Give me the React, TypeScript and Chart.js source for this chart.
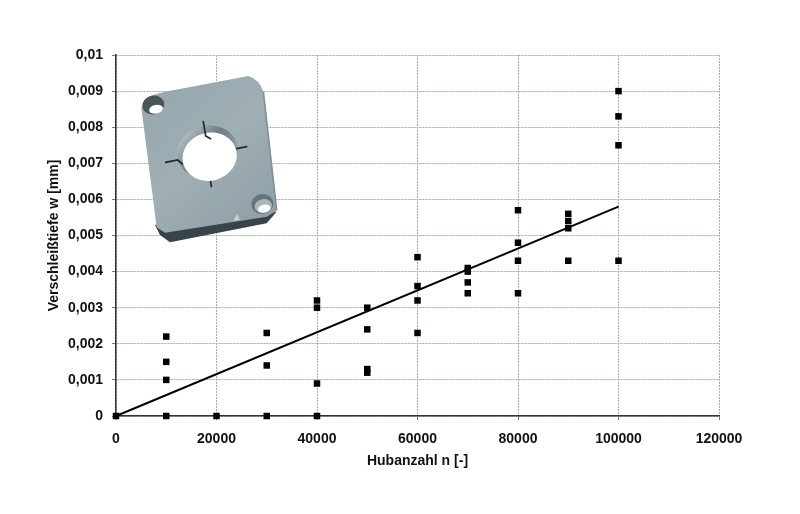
import React, { useEffect, useRef } from "react";
import { Chart, registerables } from "chart.js";

Chart.register(...registerables);

const strokeCounts = [0, 10000, 10000, 10000, 10000, 20000, 30000, 30000, 30000, 40000, 40000, 40000, 40000, 50000, 50000, 50000, 50000, 60000, 60000, 60000, 60000, 70000, 70000, 70000, 70000, 80000, 80000, 80000, 80000, 90000, 90000, 90000, 90000, 100000, 100000, 100000, 100000];
const wearDepths = [0, 0, 0.001, 0.0015, 0.0022, 0, 0, 0.0014, 0.0023, 0, 0.0009, 0.003, 0.0032, 0.0012, 0.0013, 0.0024, 0.003, 0.0023, 0.0032, 0.0036, 0.0044, 0.0034, 0.0037, 0.004, 0.0041, 0.0034, 0.0043, 0.0048, 0.0057, 0.0043, 0.0052, 0.0054, 0.0056, 0.0043, 0.0075, 0.0083, 0.009];
const trendX = [0, 100000];
const trendY = [0, 0.0058];
const xAxisTitle = "Hubanzahl n [-]";
const yAxisTitle = "Verschleißtiefe w [mm]";

const FONT = '"Liberation Sans", Arial, sans-serif';
const GRID = "#9fadb2";

const platePlugin = {
  id: "plate",
  beforeDatasetsDraw(chart: Chart) {
    const c = chart.ctx;
    c.save();
    c.translate(100, 40);
    c.scale(1 / 3, 1 / 3);

    // underside
    c.beginPath();
    c.moveTo(165, 555);
    c.lineTo(180, 585);
    c.lineTo(210, 607);
    c.lineTo(500, 550);
    c.lineTo(530, 515);
    c.closePath();
    c.fillStyle = "#39434a";
    c.fill();

    // face
    const g = c.createLinearGradient(130, 120, 520, 560);
    g.addColorStop(0, "#94a6ad");
    g.addColorStop(0.5, "#9fafb4");
    g.addColorStop(1, "#8d9ea4");
    c.beginPath();
    c.moveTo(124, 203);
    c.quadraticCurveTo(130, 172, 160, 165);
    c.lineTo(195, 155);
    c.lineTo(445, 108);
    c.quadraticCurveTo(478, 118, 490, 155);
    c.lineTo(530, 512);
    c.lineTo(500, 530);
    c.lineTo(195, 578);
    c.lineTo(170, 562);
    c.closePath();
    c.fillStyle = g;
    c.fill();

    // right edge highlight
    c.beginPath();
    c.moveTo(490, 155);
    c.lineTo(530, 512);
    c.strokeStyle = "#7f9097";
    c.lineWidth = 5;
    c.stroke();

    // top-left hole
    c.beginPath();
    c.ellipse(160, 195, 33, 28, -0.2, 0, Math.PI * 2);
    c.fillStyle = "#4a5558";
    c.fill();
    c.beginPath();
    c.ellipse(168, 208, 21, 13, -0.2, 0, Math.PI * 2);
    c.fillStyle = "#ffffff";
    c.fill();

    // bottom-right hole
    c.beginPath();
    c.ellipse(487, 492, 33, 30, -0.2, 0, Math.PI * 2);
    c.fillStyle = "#66767c";
    c.fill();
    c.beginPath();
    c.ellipse(490, 498, 26, 21, -0.2, 0, Math.PI * 2);
    c.fillStyle = "#a9b6ba";
    c.fill();
    c.beginPath();
    c.ellipse(493, 506, 19, 12, -0.2, 0, Math.PI * 2);
    c.fillStyle = "#ffffff";
    c.fill();

    // notch on lower edge
    c.beginPath();
    c.moveTo(400, 542);
    c.lineTo(411, 522);
    c.lineTo(420, 540);
    c.closePath();
    c.fillStyle = "#c8d0d2";
    c.fill();

    // central recess
    c.beginPath();
    c.ellipse(322, 335, 92, 78, -0.25, 0, Math.PI * 2);
    const r = c.createLinearGradient(240, 270, 400, 400);
    r.addColorStop(0, "#c2ccce");
    r.addColorStop(0.45, "#6e7e84");
    r.addColorStop(1, "#a4b2b7");
    c.fillStyle = r;
    c.fill();
    c.beginPath();
    c.ellipse(329, 350, 82, 72, -0.25, 0, Math.PI * 2);
    c.fillStyle = "#ffffff";
    c.fill();

    // scribed marks
    c.strokeStyle = "#1f2a2e";
    c.lineWidth = 5;
    c.lineCap = "round";
    const marks = [
      [[310, 245], [317, 288], [332, 296]],
      [[410, 326], [440, 320]],
      [[197, 367], [233, 360], [247, 372]],
      [[332, 425], [334, 440]],
    ];
    for (const m of marks) {
      c.beginPath();
      m.forEach(([x, y], i) => (i ? c.lineTo(x, y) : c.moveTo(x, y)));
      c.stroke();
    }
    c.restore();
  },
};

export default function App() {
  const ref = useRef<HTMLCanvasElement>(null);
  useEffect(() => {
    const chart = new Chart(ref.current!, {
      type: "scatter",
      data: {
        datasets: [
          {
            data: strokeCounts.map((x, i) => ({ x, y: wearDepths[i] })),
            backgroundColor: "#000",
            borderColor: "#000",
            pointStyle: "rect",
            pointRadius: 4.6,
            pointBorderWidth: 0,
            clip: false,
          },
          {
            data: trendX.map((x, i) => ({ x, y: trendY[i] })),
            showLine: true,
            pointRadius: 0,
            borderColor: "#000",
            borderWidth: 2,
            clip: false,
          },
        ],
      },
      options: {
        animation: false,
        responsive: false,
        devicePixelRatio: 1,
        layout: { padding: { left: 0, top: 55, right: 81, bottom: 0 } },
        plugins: { legend: { display: false }, tooltip: { enabled: false } },
        scales: {
          x: {
            type: "linear",
            min: 0,
            max: 120000,
            afterFit: (s: any) => { s.height = 98; },
            ticks: {
              stepSize: 20000,
              maxRotation: 0,
              color: "#111",
              padding: 11,
              font: { family: FONT, size: 14, weight: "bold" },
              callback: (v: any) => String(v),
            },
            grid: { color: GRID, lineWidth: 1, tickColor: "#777", tickLength: 4 },
            border: { color: "#333", width: 1.5, dash: [2, 1] },
            title: {
              display: true,
              text: xAxisTitle,
              color: "#111",
              font: { family: FONT, size: 14, weight: "bold" },
              padding: { top: 0, bottom: 44 },
            },
          },
          y: {
            type: "linear",
            min: 0,
            max: 0.01,
            afterFit: (s: any) => { s.width = 116; },
            ticks: {
              stepSize: 0.001,
              color: "#111",
              padding: 9,
              font: { family: FONT, size: 14, weight: "bold" },
              callback: (v: any) => String(+Number(v).toFixed(3)).replace(".", ","),
            },
            grid: { color: GRID, lineWidth: 1, tickColor: "#777", tickLength: 4 },
            border: { color: "#333", width: 1.5, dash: [2, 1] },
            title: {
              display: true,
              text: yAxisTitle,
              color: "#111",
              font: { family: FONT, size: 14, weight: "bold" },
              padding: { top: 46, bottom: 0 },
            },
          },
        },
      },
      plugins: [platePlugin],
    } as any);
    return () => chart.destroy();
  }, []);
  return (
    <canvas
      ref={ref}
      width={800}
      height={514}
      style={{ position: "absolute", left: 0, top: 0, width: 800, height: 514 }}
    />
  );
}
